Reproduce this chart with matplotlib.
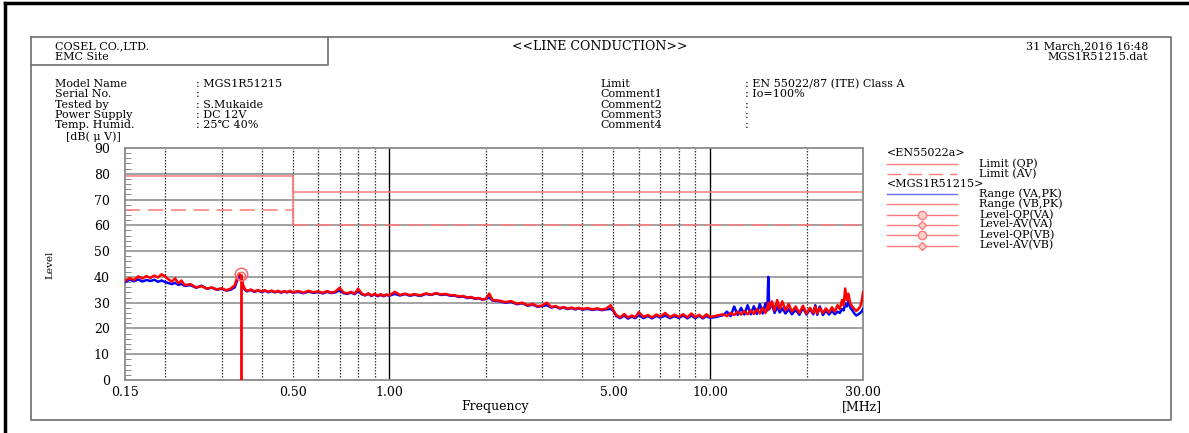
import matplotlib.pyplot as plt
from matplotlib.ticker import FixedLocator, MultipleLocator, NullFormatter

plt.rcParams['font.family'] = ['DejaVu Serif', 'DejaVu Sans']

# ---- data ----
freq = [0.150, 0.155, 0.160, 0.165, 0.170, 0.175, 0.180, 0.185, 0.190, 0.195,
        0.200, 0.205, 0.210, 0.215, 0.220, 0.225, 0.230, 0.240, 0.250, 0.260,
        0.270, 0.280, 0.290, 0.300, 0.310, 0.320, 0.330, 0.335, 0.340, 0.345,
        0.350, 0.355, 0.360, 0.370, 0.380, 0.390, 0.400, 0.410, 0.420, 0.430,
        0.440, 0.450, 0.460, 0.470, 0.480, 0.490, 0.500,
        0.52, 0.54, 0.56, 0.58, 0.60, 0.62, 0.64, 0.66, 0.68, 0.70, 0.72, 0.74,
        0.76, 0.78, 0.80, 0.82, 0.84, 0.86, 0.88, 0.90, 0.92, 0.94, 0.96, 0.98,
        1.00, 1.04, 1.08, 1.12, 1.16, 1.20, 1.25, 1.30, 1.35, 1.40, 1.45, 1.50,
        1.55, 1.60, 1.65, 1.70, 1.75, 1.80, 1.85, 1.90, 1.95, 2.00,
        2.05, 2.10, 2.20, 2.30, 2.40, 2.50, 2.60, 2.70, 2.80, 2.90, 3.00, 3.10,
        3.20, 3.30, 3.40, 3.50, 3.60, 3.70, 3.80, 3.90, 4.00, 4.15, 4.30, 4.45,
        4.60, 4.75, 4.90, 5.00,
        5.10, 5.25, 5.40, 5.55, 5.70, 5.85, 6.00, 6.20, 6.40, 6.60, 6.80, 7.00,
        7.25, 7.50, 7.75, 8.00, 8.25, 8.50, 8.75, 9.00, 9.25, 9.50, 9.75, 10.0,
        10.5, 11.0, 11.3, 11.6, 11.9, 12.2, 12.5, 12.8, 13.1, 13.4, 13.7, 14.0,
        14.3, 14.6, 14.9, 15.1, 15.2, 15.3, 15.6, 15.9, 16.2, 16.5, 16.8, 17.2,
        17.6, 18.0, 18.5, 19.0, 19.5, 20.0, 20.5, 21.0, 21.3, 21.6, 22.0, 22.5,
        23.0, 23.5, 24.0, 24.5, 25.0, 25.4, 25.8, 26.1, 26.4, 26.7, 27.0, 27.4,
        27.8, 28.2, 28.6, 29.0, 29.4, 29.7, 30.0]

range_va = [38.0, 38.9, 38.3, 39.0, 38.2, 38.8, 38.4, 38.9, 38.1, 38.6,
            38.0, 37.6, 37.2, 37.7, 36.9, 37.3, 36.5, 36.8, 35.8, 36.6,
            35.4, 35.8, 35.0, 35.4, 34.7, 35.0, 36.0, 38.4, 40.0, 39.6,
            36.2, 34.9, 34.4, 34.9, 34.2, 34.7, 34.1, 34.6, 34.0, 34.5,
            34.0, 34.4, 33.9, 34.3, 34.0, 34.4, 33.9,
            34.2, 33.7, 34.3, 33.8, 34.1, 33.6, 34.2, 33.7, 34.0, 34.8, 33.7, 33.4,
            33.9, 33.3, 34.5, 33.3, 32.8, 33.4, 32.6, 33.2, 32.5, 33.0, 32.5, 33.0,
            32.7, 33.4, 32.8, 33.3, 32.7, 33.1, 32.6, 33.4, 33.0, 33.6, 33.0, 33.2,
            32.7, 32.7, 32.2, 32.4, 31.8, 32.0, 31.5, 31.7, 31.2, 31.4,
            32.0, 30.8, 30.6, 30.0, 30.3, 29.4, 29.8, 28.8, 29.2, 28.4, 28.7, 29.0,
            28.1, 28.5, 27.7, 28.1, 27.5, 27.9, 27.4, 27.8, 27.3, 27.6, 27.2, 27.5,
            27.1, 27.4, 27.6, 26.8,
            24.8, 24.0, 25.0, 23.8, 24.6, 24.0, 25.2, 24.0, 24.8, 23.9, 24.9, 24.2,
            25.0, 24.0, 24.8, 24.1, 25.0, 23.9, 25.0, 24.0, 24.9, 23.9, 24.8, 24.1,
            24.5, 25.2, 26.5, 24.8, 28.5, 25.2, 28.0, 25.4, 29.0, 25.5, 28.6, 25.6,
            29.5, 25.8, 29.8, 27.0, 40.0, 27.5, 29.5, 26.0, 28.5, 26.2, 27.8, 25.8,
            27.5, 25.5, 27.2, 25.3, 28.0, 25.4, 27.5, 25.5, 29.0, 25.3, 28.5, 25.2,
            27.0, 25.4, 26.8, 25.5, 26.5, 26.0, 27.5, 27.0, 29.5, 28.5, 30.5, 28.0,
            27.0, 25.8, 25.0, 25.5, 26.0, 26.5, 27.5]

range_vb = [38.5, 39.5, 38.8, 40.2, 39.4, 40.3, 39.6, 40.5, 39.8, 41.0,
            40.2, 39.0, 38.2, 39.4, 37.5, 38.6, 36.8, 37.2, 35.9, 36.4,
            35.5, 35.9, 35.1, 35.6, 34.8, 35.4, 36.8, 39.5, 41.2, 40.5,
            37.0, 35.2, 34.6, 35.1, 34.4, 34.9, 34.3, 34.8, 34.2, 34.7,
            34.1, 34.6, 34.0, 34.5, 34.1, 34.6, 34.0,
            34.5, 33.9, 34.6, 34.0, 34.4, 33.8, 34.5, 33.9, 34.3, 35.8, 34.0, 33.6,
            34.2, 33.5, 35.4, 33.6, 32.9, 33.6, 32.8, 33.4, 32.7, 33.3, 32.6, 33.2,
            32.8, 34.2, 33.0, 33.5, 32.9, 33.3, 32.8, 33.6, 33.1, 33.7, 33.2, 33.4,
            32.9, 32.9, 32.4, 32.6, 32.0, 32.2, 31.6, 31.8, 31.3, 31.5,
            33.5, 31.0, 30.8, 30.2, 30.6, 29.6, 30.0, 29.0, 29.5, 28.6, 28.9, 30.0,
            28.3, 28.7, 27.9, 28.3, 27.7, 28.1, 27.6, 28.0, 27.5, 27.9, 27.4, 27.8,
            27.3, 27.7, 29.0, 27.0,
            25.2, 24.3, 25.6, 24.2, 25.0, 24.4, 26.3, 24.5, 25.2, 24.3, 25.4, 24.6,
            26.0, 24.4, 25.3, 24.5, 25.5, 24.3, 25.8, 24.4, 25.3, 24.2, 25.5, 24.4,
            25.0, 25.5, 24.8, 26.0, 25.2, 26.5, 25.4, 26.8, 25.5, 27.0, 25.6, 27.5,
            25.8, 28.0, 26.0, 28.5, 30.0, 27.5, 30.5, 27.0, 31.0, 27.5, 30.5, 27.0,
            29.5, 26.5, 28.5, 26.0, 28.8, 25.8, 28.0, 26.0, 28.5, 25.8, 28.0, 26.0,
            27.8, 26.2, 28.2, 26.5, 29.0, 27.5, 31.0, 29.0, 35.5, 31.0, 33.5, 29.5,
            28.5, 27.5, 26.8, 27.5, 28.5, 30.5, 34.0]

limit_freq = [0.15, 0.5, 0.5, 30.0]
limit_qp = [79, 79, 73, 73]
limit_av = [66, 66, 60, 60]

peak_freq = [0.345]
peak_qp = [41.0]
peak_av = [40.3]

xtick_vals = [0.15, 0.5, 1.0, 5.0, 10.0, 30.0]
xtick_labels = ['0.15', '0.50', '1.00', '5.00', '10.00', '30.00']
dotted_grid = [0.2, 0.3, 0.4, 0.5, 0.6, 0.7, 0.8, 0.9,
               2, 3, 4, 5, 6, 7, 8, 9, 20]
solid_grid = [1.0, 10.0]

info_left = ['Model Name', 'Serial No.', 'Tested by', 'Power Supply', 'Temp. Humid.']
info_left_val = [': MGS1R51215', ':', ': S.Mukaide', ': DC 12V', ': 25\u2103 40%']
info_right = ['Limit', 'Comment1', 'Comment2', 'Comment3', 'Comment4']
info_right_val = [': EN 55022/87 (ITE) Class A', ': Io=100%', ':', ':', ':']

legend_labels = ['<EN55022a>', 'Limit (QP)', 'Limit (AV)', '<MGS1R51215>',
                 'Range (VA,PK)', 'Range (VB,PK)', 'Level-QP(VA)', 'Level-AV(VA)',
                 'Level-QP(VB)', 'Level-AV(VB)']

W, H = 1189, 433
LIM = '#ff7a7a'
fs = 8      # tightly packed rows
fs2 = 9     # axis labels / title with more room

fig = plt.figure(figsize=(W / 100, H / 100), dpi=100)

# page overlay in pixel coordinates
pg = fig.add_axes([0, 0, 1, 1], zorder=0)
pg.set_xlim(0, W)
pg.set_ylim(H, 0)
pg.axis('off')
pg.plot([5, W], [3, 3], color='black', lw=2.5)
pg.plot([5, 5], [3, H], color='black', lw=2.5)
pg.plot([31, 1171, 1171, 31, 31], [37, 37, 420, 420, 37], color='#777777', lw=1.3)
pg.plot([31, 328, 328], [65, 65, 37], color='#777777', lw=1.3)

pg.text(55, 46.5, 'COSEL CO.,LTD.', fontsize=fs, va='center')
pg.text(55, 57.5, 'EMC Site', fontsize=fs, va='center')
pg.text(600, 46.5, '<<LINE CONDUCTION>>', fontsize=fs2, va='center', ha='center')
pg.text(1148, 46.5, '31 March,2016 16:48', fontsize=fs, va='center', ha='right')
pg.text(1148, 57.5, 'MGS1R51215.dat', fontsize=fs, va='center', ha='right')
for i in range(5):
    y = 84 + i * 10.3
    pg.text(55, y, info_left[i], fontsize=fs, va='center')
    pg.text(196, y, info_left_val[i], fontsize=fs, va='center')
    pg.text(600, y, info_right[i], fontsize=fs, va='center')
    pg.text(745, y, info_right_val[i], fontsize=fs, va='center')
pg.text(66, 137, '[dB( \u03bc V)]', fontsize=fs, va='center')
pg.text(50, 265, 'Level', fontsize=7.5, va='center', ha='center', rotation=90)
pg.text(495, 406.5, 'Frequency', fontsize=fs2, va='center', ha='center')
pg.text(862, 406.5, '[MHz]', fontsize=fs2, va='center', ha='center')

# legend
ly = [153, 163.5, 174, 184, 194, 204, 214.5, 224.5, 235, 245.5]
for i, lab in enumerate(legend_labels):
    if lab.startswith('<'):
        pg.text(887, ly[i], lab, fontsize=fs, va='center')
        continue
    pg.text(979, ly[i], lab, fontsize=fs, va='center')
    if lab == 'Limit (AV)':
        pg.plot([887, 957], [ly[i], ly[i]], color=LIM, lw=1, dashes=(10, 5))
    elif lab == 'Range (VA,PK)':
        pg.plot([887, 957], [ly[i], ly[i]], color='#6a6aff', lw=1)
    else:
        pg.plot([887, 957], [ly[i], ly[i]], color=LIM, lw=1)
    if 'QP(' in lab:
        pg.plot([922], [ly[i]], marker='o', ms=6, mfc='#ffd0d0', mec=LIM, mew=1)
    elif 'AV(' in lab:
        pg.plot([922], [ly[i]], marker='D', ms=4.5, mfc='#ffd0d0', mec=LIM, mew=1)

# chart
ax = fig.add_axes([125 / W, 1 - 380 / H, 738 / W, 232 / H], zorder=1)
ax.set_xscale('log')
ax.set_xlim(0.15, 30)
ax.set_ylim(0, 90)
for v in range(10, 90, 10):
    ax.axhline(v, color='#9a9a9a', lw=1.3, zorder=1)
for v in dotted_grid:
    ax.axvline(v, color='#333333', lw=0.9, ls=(0, (1.2, 1.2)), zorder=1)
for v in solid_grid:
    ax.axvline(v, color='black', lw=1.0, zorder=1)

ax.plot(limit_freq, limit_qp, color=LIM, lw=1.1, zorder=2)
ax.plot(limit_freq, limit_av, color=LIM, lw=1.1, dashes=(10, 5), zorder=2)
ax.plot([0.5, 0.5], [limit_av[2], limit_qp[0]], color=LIM, lw=1.1, zorder=2)

ax.plot(freq, range_va, color='#0000ff', lw=1.8, zorder=3)
ax.plot(freq, range_vb, color='#ff0000', lw=1.8, zorder=4)

ax.vlines(peak_freq, 0, peak_qp, color='#ff0000', lw=2, zorder=5)
ax.plot(peak_freq, peak_qp, 'o', ms=9, mfc='none', mec='#ff6060', mew=1, zorder=6)
ax.plot(peak_freq, peak_av, 'o', ms=6, mfc='none', mec='#ff6060', mew=1, zorder=6)

ax.xaxis.set_major_locator(FixedLocator(xtick_vals))
ax.set_xticklabels(xtick_labels, fontsize=fs2)
ax.xaxis.set_minor_formatter(NullFormatter())
ax.xaxis.set_minor_locator(FixedLocator([]))
ax.tick_params(axis='x', length=0, pad=4)
ax.set_yticks(range(0, 91, 10))
ax.set_yticklabels([str(v) for v in range(0, 91, 10)], fontsize=fs2)
ax.yaxis.set_minor_locator(MultipleLocator(2))
ax.tick_params(axis='y', which='major', length=0, pad=11)
ax.tick_params(axis='y', which='minor', direction='in', length=4, color='#777777')
for s in ax.spines.values():
    s.set_color('#8a8a8a')
    s.set_linewidth(1.3)

fig.savefig('out.png', dpi=100)
